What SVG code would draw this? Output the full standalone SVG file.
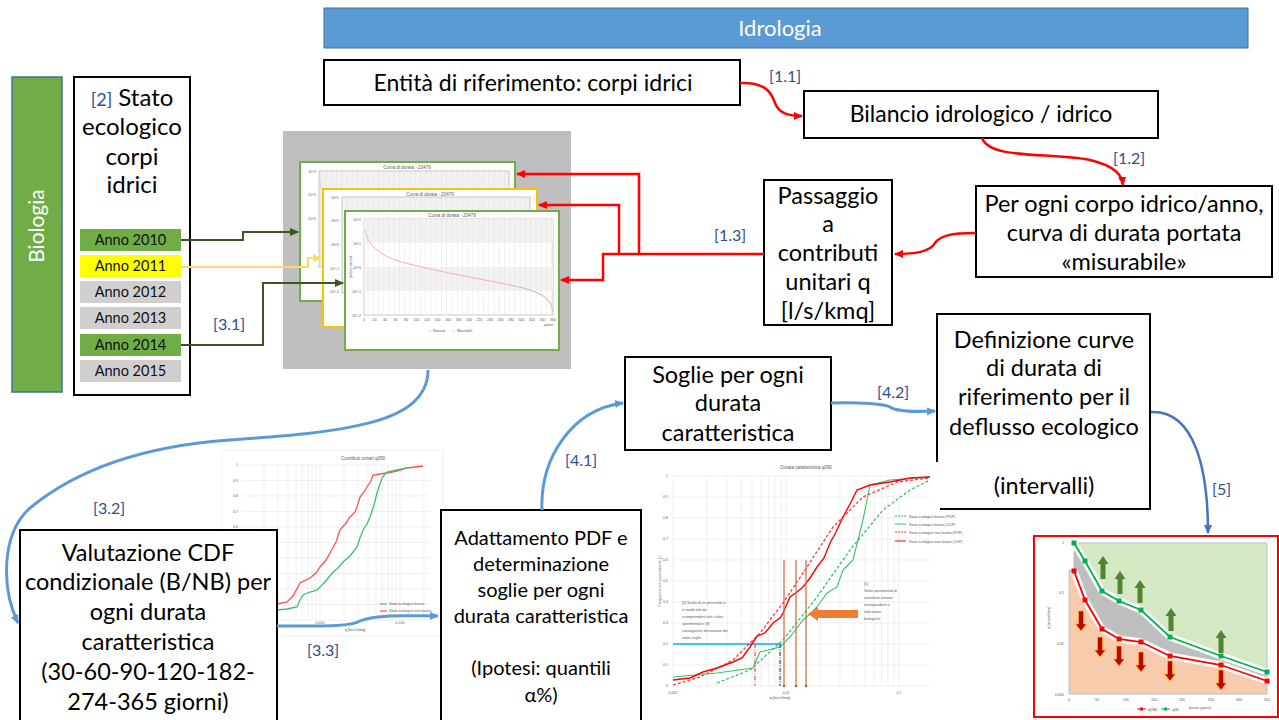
<svg xmlns="http://www.w3.org/2000/svg" width="1279" height="720" viewBox="0 0 1279 720">
<defs>
<style>
.box{fill:#fff;stroke:#000;stroke-width:2}
.t{font-family:Lato,"Liberation Sans",sans-serif;font-size:23.5px;fill:#000;text-anchor:middle}
.t20{font-size:20px}
.t23{font-size:23px}
.t24{font-size:24px}
.lbl{font-family:Lato,"Liberation Sans",sans-serif;font-size:16px;fill:#2f4f8f}
.anno{font-family:Lato,"Liberation Sans",sans-serif;font-size:14.5px;fill:#111;text-anchor:middle}
.red{fill:none;stroke:#ff0000;stroke-width:2.5}
.blue{fill:none;stroke:#5b9bd5;stroke-width:3}
.dg{fill:none;stroke:#385723;stroke-width:2}
.s{font-family:"Liberation Sans",sans-serif;font-size:4.5px;fill:#595959}
.ss{font-family:"Liberation Sans",sans-serif;font-size:3.6px;fill:#595959}
.g{stroke:#e6e6e6;stroke-width:0.6;fill:none}
.card{fill:#fff;stroke-width:2}
</style>
<marker id="ar" markerWidth="10" markerHeight="10" refX="8" refY="5" orient="auto" markerUnits="userSpaceOnUse"><path d="M0,1 L9,5 L0,9 z" fill="#ff0000"/></marker>
<marker id="ab" markerWidth="10" markerHeight="10" refX="8" refY="5" orient="auto" markerUnits="userSpaceOnUse"><path d="M0,1 L9,5 L0,9 z" fill="#5b9bd5"/></marker>
<marker id="ad" markerWidth="10" markerHeight="10" refX="8" refY="5" orient="auto" markerUnits="userSpaceOnUse"><path d="M0,1 L9,5 L0,9 z" fill="#4472c4"/></marker>
<marker id="ag" markerWidth="10" markerHeight="10" refX="8" refY="5" orient="auto" markerUnits="userSpaceOnUse"><path d="M0,1 L9,5 L0,9 z" fill="#385723"/></marker>
<marker id="ay" markerWidth="10" markerHeight="10" refX="8" refY="5" orient="auto" markerUnits="userSpaceOnUse"><path d="M0,1 L9,5 L0,9 z" fill="#ffd966"/></marker>
<pattern id="vg" width="5.25" height="10" patternUnits="userSpaceOnUse"><line x1="0.3" y1="0" x2="0.3" y2="10" stroke="#d9d9d9" stroke-width="0.5"/></pattern>
<path id="up" d="M-2.5,0 V-15 H-5.5 L0,-23 L5.5,-15 H2.5 V0 Z" fill="#548235"/>
<path id="dn" d="M-2.5,0 V13 H-5.5 L0,20 L5.5,13 H2.5 V0 Z" fill="#c00000" stroke="#ffc000" stroke-width="0.7"/>
</defs>
<rect width="1279" height="720" fill="#fff"/>

<!-- Header -->
<g id="idrologia">
<rect x="324" y="8" width="924" height="40" fill="#5b9bd5" stroke="#41719c" stroke-width="1"/>
<text x="780" y="36" font-family="Lato,'Liberation Sans',sans-serif" font-size="22" fill="#fff" text-anchor="middle">Idrologia</text>
</g>

<g id="biologia">
<rect x="12" y="77" width="50" height="315" fill="#70ad47" stroke="#41719c" stroke-width="1.5"/>
<text transform="translate(44,226) rotate(-90)" font-family="Lato,'Liberation Sans',sans-serif" font-size="21" fill="#fff" text-anchor="middle">Biologia</text>
</g>

<g id="stato">
<rect class="box" x="74" y="77" width="116" height="318"/>
<text class="t t24" x="132" y="106"><tspan font-size="18" fill="#2f4f8f">[2]</tspan> Stato</text>
<text class="t t24" x="132" y="135">ecologico</text>
<text class="t t24" x="132" y="165">corpi</text>
<text class="t t24" x="132" y="193">idrici</text>
<rect x="80" y="229" width="101" height="22" fill="#70ad47"/>
<text class="anno" x="130.5" y="245">Anno 2010</text>
<rect x="80" y="255" width="101" height="22" fill="#ffff00"/>
<text class="anno" x="130.5" y="271">Anno 2011</text>
<rect x="80" y="281" width="101" height="22" fill="#d0cece"/>
<text class="anno" x="130.5" y="297">Anno 2012</text>
<rect x="80" y="307" width="101" height="22" fill="#d0cece"/>
<text class="anno" x="130.5" y="323">Anno 2013</text>
<rect x="80" y="334" width="101" height="22" fill="#70ad47"/>
<text class="anno" x="130.5" y="350">Anno 2014</text>
<rect x="80" y="360" width="101" height="22" fill="#d0cece"/>
<text class="anno" x="130.5" y="376">Anno 2015</text>
</g>

<g id="entita">
<rect class="box" x="324" y="60" width="416" height="45"/>
<text class="t t23" x="533" y="91">Entità di riferimento: corpi idrici</text>
</g>

<g id="bilancio">
<rect class="box" x="804" y="91" width="354" height="47"/>
<text class="t t23" x="981" y="122">Bilancio idrologico / idrico</text>
</g>

<g id="perogni">
<rect class="box" x="976" y="186" width="296" height="91"/>
<text class="t" x="1124" y="212">Per ogni corpo idrico/anno,</text>
<text class="t" x="1124" y="241">curva di durata portata</text>
<text class="t" x="1124" y="270">«misurabile»</text>
</g>

<g id="passaggio">
<rect class="box" x="764" y="180" width="128" height="145"/>
<text class="t" x="828" y="204">Passaggio</text>
<text class="t" x="828" y="232">a</text>
<text class="t" x="828" y="261">contributi</text>
<text class="t" x="828" y="290">unitari q</text>
<text class="t" x="828" y="319">[l/s/kmq]</text>
</g>

<!-- Screenshot of duration curves -->
<g id="curve-durata">
<rect x="283" y="131" width="288" height="238" fill="#bfbfbf"/>
<g id="card1">
<rect class="card" x="300" y="162" width="215" height="139" stroke="#70ad47"/>
<text class="s" x="407" y="168.5" text-anchor="middle">Curva di durata - 20479</text>
<rect x="319" y="171" width="190" height="96" fill="#f2f2f2" stroke="#a6a6a6" stroke-width="0.6"/>
<rect x="319" y="171" width="190" height="96" fill="url(#vg)"/>
<text class="ss" x="316" y="173" text-anchor="end">10^2</text>
<text class="ss" x="316" y="196" text-anchor="end">10^1</text>
<text class="ss" x="316" y="220" text-anchor="end">10^0</text>
<path d="M320,182 C322,195 330,200 345,205" stroke="#f4b6c2" fill="none" stroke-width="0.8"/>
</g>
<g id="card2">
<rect class="card" x="323" y="189" width="214" height="138" stroke="#ffc000"/>
<text class="s" x="430" y="195.5" text-anchor="middle">Curva di durata - 20479</text>
<rect x="342" y="197" width="188" height="96" fill="#f2f2f2" stroke="#a6a6a6" stroke-width="0.6"/>
<rect x="342" y="197" width="188" height="96" fill="url(#vg)"/>
<text class="ss" x="339" y="199" text-anchor="end">10^2</text>
<text class="ss" x="339" y="222" text-anchor="end">10^1</text>
<text class="ss" x="339" y="246" text-anchor="end">10^0</text>
<text class="ss" x="339" y="270" text-anchor="end">10^-1</text>
<text class="ss" x="339" y="293" text-anchor="end">10^-2</text>
</g>
<g id="card3">
<rect class="card" x="345" y="211" width="214" height="139" stroke="#70ad47"/>
<text class="s" x="452" y="217" text-anchor="middle">Curva di durata - 20479</text>
<rect x="364" y="219" width="189" height="96" fill="#fff" stroke="#a6a6a6" stroke-width="0.6"/>
<rect x="364" y="219" width="189" height="24" fill="#f2f2f2"/>
<rect x="364" y="267" width="189" height="24" fill="#f2f2f2"/>
<rect x="364" y="219" width="189" height="96" fill="url(#vg)"/>
<text class="ss" x="361" y="221" text-anchor="end">10^2</text>
<text class="ss" x="361" y="245" text-anchor="end">10^1</text>
<text class="ss" x="361" y="269" text-anchor="end">10^0</text>
<text class="ss" x="361" y="293" text-anchor="end">10^-1</text>
<text class="ss" x="361" y="317" text-anchor="end">10^-2</text>
<text class="ss" x="352" y="267" transform="rotate(-90 352 267)" text-anchor="middle">[m3/s] naturali</text>
<path d="M365,230 C368,245 378,254 398,261 C430,270 470,277 510,285 C535,290 547,296 551,304 L553,312" stroke="#f4a6b6" fill="none" stroke-width="0.9"/>
<path d="M520,287 C538,292 547,297 552,306" stroke="#9dc3e6" fill="none" stroke-width="0.6"/>
<g class="ss" text-anchor="middle">
<text x="364" y="321">0</text><text x="374.5" y="321">20</text><text x="385" y="321">40</text><text x="395.5" y="321">60</text><text x="406" y="321">80</text><text x="416.5" y="321">100</text><text x="427" y="321">120</text><text x="437.5" y="321">140</text><text x="448" y="321">160</text><text x="458.5" y="321">180</text><text x="469" y="321">200</text><text x="479.5" y="321">220</text><text x="490" y="321">240</text><text x="500.5" y="321">260</text><text x="511" y="321">280</text><text x="521.5" y="321">300</text><text x="532" y="321">320</text><text x="542.5" y="321">340</text><text x="553" y="321">360</text>
</g>
<text class="ss" x="553" y="326" text-anchor="end">giorni</text>
<line x1="428" y1="331" x2="431" y2="331" stroke="#9dc3e6" stroke-width="0.6"/>
<text class="ss" x="433" y="332">Naturali</text>
<line x1="452" y1="331" x2="455" y2="331" stroke="#f4a6b6" stroke-width="0.6"/>
<text class="ss" x="457" y="332">Misurabili</text>
</g>
</g>

<g id="soglie">
<rect class="box" x="625" y="357" width="206" height="93"/>
<text class="t" x="728" y="383">Soglie per ogni</text>
<text class="t" x="728" y="411">durata</text>
<text class="t" x="728" y="441">caratteristica</text>
</g>

<g id="definizione">
<rect class="box" x="937" y="314" width="213" height="195"/>
<text class="t" x="1044" y="348">Definizione curve</text>
<text class="t" x="1044" y="376">di durata di</text>
<text class="t" x="1044" y="405">riferimento per il</text>
<text class="t" x="1044" y="435">deflusso ecologico</text>
<text class="t" x="1044" y="494">(intervalli)</text>
</g>

<!-- Middle chart: Contributi unitari q090 -->
<g id="chart-contributi">
<rect x="222" y="450" width="221" height="186" fill="#fff" stroke="#eeeeee" stroke-width="0.8"/>
<text class="s" x="363" y="460" text-anchor="middle" font-size="5.5">Contributi unitari q090</text>
<g class="g">
<path d="M242,465H430M242,480.5H430M242,496H430M242,511.5H430M242,527H430M242,542.5H430M242,558H430M242,573.5H430M242,589H430M242,604.5H430M242,620H430"/>
<path d="M264,465V620M278,465V620M288,465V620M296,465V620M302,465V620M308,465V620M312,465V620M316,465V620M320,465V620M344,465V620M358,465V620M368,465V620M376,465V620M382,465V620M388,465V620M392,465V620M396,465V620M400,465V620M424,465V620"/>
</g>
<g class="ss" text-anchor="end">
<text x="238" y="466">1</text><text x="238" y="481.5">0.9</text><text x="238" y="497">0.8</text><text x="238" y="512.5">0.7</text><text x="238" y="528">0.6</text>
</g>
<text class="ss" x="320" y="624" text-anchor="middle">0.010</text>
<text class="ss" x="400" y="624" text-anchor="middle">0.100</text>
<text class="ss" x="355" y="631" text-anchor="middle">q [mc/s/kmq]</text>
<path d="M268,607 L277,604 L287,602 L293,596 L300,583 L310,578 L316,573 L320,567 L326,560 L330,553 L336,542 L340,530 L346,523 L350,517 L355,512 L357,507 L360,497 L364,492 L367,487 L371,481 L373,475 L380,474 L387,473 L397,471 L407,468 L423,466" stroke="#ff5050" stroke-width="1.3" fill="none"/>
<path d="M268,611 L277,610 L287,609 L297,607 L300,600 L303,595 L310,592 L317,590 L325,582 L333,572 L338,568 L343,562 L350,556 L357,547 L360,538 L363,530 L367,524 L370,517 L374,505 L377,493 L380,484 L382,478 L385,474 L387,472 L397,470 L407,468" stroke="#3cbf6a" stroke-width="1.3" fill="none"/>
<line x1="380" y1="604" x2="387" y2="604" stroke="#3cbf6a" stroke-width="1.2"/>
<text class="ss" x="389" y="605" font-size="2.8">Stato ecologico buono</text>
<line x1="380" y1="611" x2="387" y2="611" stroke="#ff5050" stroke-width="1.2"/>
<text class="ss" x="389" y="612" font-size="2.8">Stato ecologico non buono</text>
</g>

<!-- Right chart: Durata caratteristica q090 -->
<g id="chart-durata">
<rect x="657" y="462" width="283" height="238" fill="#fff"/>
<text class="s" x="806" y="469" text-anchor="middle" font-size="5.5">Durata caratteristica q090</text>
<g class="g">
<path d="M673,476H930M673,497H930M673,518H930M673,539H930M673,560H930M673,581H930M673,602H930M673,623H930M673,644H930M673,665H930M673,686H930"/>
<path d="M673,476V686M707,476V686M727,476V686M741,476V686M752,476V686M761,476V686M768.5,476V686M775,476V686M781,476V686M786,476V686M820,476V686M840,476V686M854,476V686M865,476V686M874,476V686M881.5,476V686M888,476V686M894,476V686M899,476V686"/>
</g>
<g class="ss" text-anchor="end">
<text x="668" y="477">1</text><text x="668" y="498">0.9</text><text x="668" y="519">0.8</text><text x="668" y="540">0.7</text><text x="668" y="561">0.6</text><text x="668" y="582">0.5</text><text x="668" y="603">0.4</text><text x="668" y="624">0.3</text><text x="668" y="645">0.2</text><text x="668" y="666">0.1</text><text x="668" y="687">0</text>
</g>
<text class="ss" x="661" y="581" transform="rotate(-90 661 581)" text-anchor="middle">Frequenza non superamento (-)</text>
<g class="ss" text-anchor="middle"><text x="673" y="694">0.001</text><text x="786" y="694">0.01</text><text x="899" y="694">0.1</text></g>
<text class="ss" x="780" y="699" text-anchor="middle">q [mc/s/kmq]</text>
<line x1="673" y1="644" x2="781" y2="644" stroke="#00b0f0" stroke-width="1.3"/>
<path d="M673,685 L700,677 L733,660 L760,633 L783,603 L807,567 L833,527 L863,497 L897,482 L930,478" stroke="#ff3b3b" stroke-width="1.3" stroke-dasharray="3,2" fill="none"/>
<path d="M717,683 L750,670 L783,640 L817,597 L850,550 L883,510 L910,490 L930,480" stroke="#3cbf6a" stroke-width="1.3" stroke-dasharray="3,2" fill="none"/>
<path d="M673,677 L717,673 L753,668 L760,652 L780,647 L790,637 L797,628 L803,620 L810,614 L817,607 L822,600 L827,593 L837,587 L843,570 L848,565 L853,560 L858,540 L863,520 L868,495 L870,485 L890,480 L930,477" stroke="#3cbf6a" stroke-width="1.1" fill="none"/>
<path d="M673,680 L690,678 L703,672 L717,668 L733,662 L742,658 L750,647 L757,636 L765,633 L773,623 L780,618 L783,613 L790,597 L797,592 L803,587 L810,578 L817,567 L824,558 L830,543 L836,532 L843,517 L850,504 L857,490 L870,485 L890,482 L910,478 L930,477" stroke="#ff0000" stroke-width="1.4" fill="none"/>
<line x1="755" y1="644" x2="755" y2="686" stroke="#e05050" stroke-width="1.2" stroke-dasharray="4,1.5,1,1.5"/>
<line x1="780" y1="644" x2="780" y2="686" stroke="#385723" stroke-width="1.2" stroke-dasharray="4,1.5,1,1.5"/>
<g stroke="#c5794a" stroke-width="1.3">
<line x1="784" y1="560" x2="784" y2="686"/><line x1="796" y1="560" x2="796" y2="686"/><line x1="806" y1="560" x2="806" y2="686"/>
</g>
<g fill="#c55a11"><circle cx="784" cy="686" r="1.2"/><circle cx="796" cy="686" r="1.2"/><circle cx="806" cy="686" r="1.2"/></g>
<path d="M858,610 H818 V607 L808,614 L818,621 V618 H858 Z" fill="#ed7d31"/>
<g class="ss" font-size="3.8" fill="#404040">
<text x="682" y="604">[2] Scelta di un percentile α</text>
<text x="682" y="611">in modo tale da</text>
<text x="682" y="618">ricomprendere tutti i valori</text>
<text x="682" y="625">sperimentali e [3]</text>
<text x="682" y="632">conseguente derivazione dei</text>
<text x="682" y="639">valori soglia</text>
<text x="864" y="585">[1]</text>
<text x="864" y="592">Valori sperimentali di</text>
<text x="864" y="599">contributo unitario</text>
<text x="864" y="606">corrispondenti a</text>
<text x="864" y="613">indicazioni</text>
<text x="864" y="620">biologiche</text>
</g>
<g stroke-width="1">
<line x1="895" y1="516" x2="906" y2="516" stroke="#3cbf6a" stroke-dasharray="2,1"/>
<line x1="895" y1="524" x2="906" y2="524" stroke="#3cbf6a"/>
<line x1="895" y1="532" x2="906" y2="532" stroke="#ff3b3b" stroke-dasharray="2,1"/>
<line x1="895" y1="541" x2="906" y2="541" stroke="#ff0000"/>
</g>
<g class="ss" font-size="3.4">
<text x="909" y="517.5">Stato ecologico buono (PDF)</text>
<text x="909" y="525.5">Stato ecologico buono (CDF)</text>
<text x="909" y="533.5">Stato ecologico non buono (PDF)</text>
<text x="909" y="542.5">Stato ecologico non buono (CDF)</text>
</g>
</g>

<!-- Bottom-right chart -->
<g id="chart-riferimento">
<rect x="1034" y="536" width="244" height="181" fill="#fff" stroke="#ff0000" stroke-width="2"/>
<g class="g">
<path d="M1069,543H1267M1069,568H1267M1069,593H1267M1069,619H1267M1069,644H1267M1069,669H1267M1069,694H1267"/>
<path d="M1097,543V694M1126,543V694M1154,543V694M1182,543V694M1211,543V694M1239,543V694"/>
</g>
<polygon points="1069,570 1074,571 1085,600 1102,629 1119,639 1141,642 1170,656 1221,665 1267,681 1267,694 1069,694" fill="#f8cbad" stroke="#adb9ca" stroke-width="0.8"/>
<polygon points="1074,551 1085,561 1102,591 1119,601 1141,610 1170,637 1221,656 1267,672 1267,681 1221,665 1170,656 1141,642 1119,639 1102,629 1085,600 1074,571" fill="#bfbfbf" stroke="#adb9ca" stroke-width="0.8"/>
<polygon points="1078,543 1267,543 1267,672 1221,656 1170,637 1141,610 1119,601 1102,591 1085,561" fill="#d5e8c4" stroke="#adb9ca" stroke-width="0.8"/>
<g fill="none" stroke="#fff" stroke-width="7" stroke-linejoin="round">
<polyline points="1074,543 1085,561 1102,591 1119,601 1141,610 1170,637 1221,656 1267,672"/>
<polyline points="1074,571 1085,600 1102,629 1119,639 1141,642 1170,656 1221,665 1267,681"/>
</g>
<polyline points="1074,543 1085,561 1102,591 1119,601 1141,610 1170,637 1221,656 1267,672" fill="none" stroke="#00b050" stroke-width="1.8"/>
<polyline points="1074,571 1085,600 1102,629 1119,639 1141,642 1170,656 1221,665 1267,681" fill="none" stroke="#ff0000" stroke-width="1.8"/>
<g fill="#00b050">
<rect x="1071.5" y="540.5" width="5" height="5"/><rect x="1082.5" y="558.5" width="5" height="5"/><rect x="1099.5" y="588.5" width="5" height="5"/><rect x="1116.5" y="598.5" width="5" height="5"/><rect x="1138.5" y="607.5" width="5" height="5"/><rect x="1167.5" y="634.5" width="5" height="5"/><rect x="1218.5" y="653.5" width="5" height="5"/><rect x="1264.5" y="669.5" width="5" height="5"/>
</g>
<g fill="#ff0000">
<rect x="1071.5" y="568.5" width="5" height="5"/><rect x="1082.5" y="597.5" width="5" height="5"/><rect x="1099.5" y="626.5" width="5" height="5"/><rect x="1116.5" y="636.5" width="5" height="5"/><rect x="1138.5" y="639.5" width="5" height="5"/><rect x="1167.5" y="653.5" width="5" height="5"/><rect x="1218.5" y="662.5" width="5" height="5"/><rect x="1264.5" y="678.5" width="5" height="5"/>
</g>
<use href="#up" x="1103" y="579"/><use href="#up" x="1120" y="594"/><use href="#up" x="1140" y="603"/><use href="#up" x="1171" y="631"/><use href="#up" x="1221" y="653"/>
<use href="#dn" x="1081" y="611"/><use href="#dn" x="1100" y="637"/><use href="#dn" x="1119" y="646"/><use href="#dn" x="1141" y="652"/><use href="#dn" x="1170" y="661"/><use href="#dn" x="1221" y="670"/>
<g class="ss" text-anchor="end"><text x="1064" y="544">1</text><text x="1064" y="594">0.5</text><text x="1064" y="645">0.05</text><text x="1064" y="696">0.005</text></g>
<text class="ss" x="1050" y="618" transform="rotate(-90 1050 618)" text-anchor="middle">q [mcs/s/kmq]</text>
<g class="ss" text-anchor="middle"><text x="1069" y="701">0</text><text x="1097" y="701">50</text><text x="1126" y="701">100</text><text x="1154" y="701">150</text><text x="1182" y="701">200</text><text x="1211" y="701">250</text><text x="1239" y="701">300</text><text x="1267" y="701">350</text></g>
<text class="ss" x="1200" y="709" text-anchor="middle">durata (giorni)</text>
<line x1="1137" y1="709" x2="1146" y2="709" stroke="#ff0000" stroke-width="1"/><rect x="1140" y="707.5" width="3" height="3" fill="#ff0000"/>
<text class="ss" x="1148" y="710.5">q(NB)</text>
<line x1="1161" y1="709" x2="1170" y2="709" stroke="#00b050" stroke-width="1"/><rect x="1164" y="707.5" width="3" height="3" fill="#00b050"/>
<text class="ss" x="1172" y="710.5">q(B)</text>
</g>

<g id="valutazione">
<rect class="box" x="20" y="530" width="257" height="200"/>
<text class="t" x="148" y="561">Valutazione CDF</text>
<text class="t" x="148" y="590">condizionale (B/NB) per</text>
<text class="t" x="148" y="620">ogni durata</text>
<text class="t" x="148" y="650">caratteristica</text>
<text class="t" x="148" y="680">(30-60-90-120-182-</text>
<text class="t" x="148" y="710">274-365 giorni)</text>
</g>

<g id="adattamento">
<rect class="box" x="441" y="510" width="200" height="220"/>
<text class="t t20" x="541" y="545">Adattamento PDF e</text>
<text class="t t20" x="541" y="571">determinazione</text>
<text class="t t20" x="541" y="597">soglie per ogni</text>
<text class="t t20" x="541" y="623">durata caratteristica</text>
<text class="t t20" x="541" y="675">(Ipotesi: quantili</text>
<text class="t t20" x="541" y="702">α%)</text>
</g>

<!-- Connectors -->
<g id="connectors">
<path class="red" d="M740,83 C768,82 772,95 775,103 C779,114 790,116 802,116" marker-end="url(#ar)"/>
<path class="red" d="M982,138 C990,160 1050,152 1090,160 C1115,166 1122,175 1123,185" marker-end="url(#ar)"/>
<path class="red" d="M976,233 C950,233 940,236 935,243 C930,252 915,254 895,254" marker-end="url(#ar)"/>
<path class="red" d="M764,254 H639 V174 H517" marker-end="url(#ar)"/>
<path class="red" d="M639,254 H619 V205 H539" marker-end="url(#ar)"/>
<path class="red" d="M619,254 H603 V280 H561" marker-end="url(#ar)"/>
<path class="dg" d="M181,240 H243 V232 H298" marker-end="url(#ag)"/>
<path fill="none" stroke="#ffd966" stroke-width="2" d="M181,267 H308 V258 H321" marker-end="url(#ay)"/>
<path class="dg" d="M181,345 H263 V283 H343" marker-end="url(#ag)"/>
<path class="blue" d="M428,370 C428,425 340,432 230,440 C130,447 70,475 30,508 C0,535 2,590 18,623" marker-end="url(#ab)"/>
<path class="blue" d="M277,626 C320,626 350,627 360,621 C375,614 410,616 438,616" marker-end="url(#ab)"/>
<path class="blue" d="M542,510 C540,460 570,410 623,403" marker-end="url(#ab)"/>
<path class="blue" d="M831,403 C860,402 885,404 890,407 C895,411 915,412 935,411" marker-end="url(#ab)"/>
<path fill="none" stroke="#4472c4" stroke-width="2.5" d="M1151,412 C1195,410 1208,470 1208,533" marker-end="url(#ad)"/>
<text class="lbl" x="769" y="82">[1.1]</text>
<text class="lbl" x="1113" y="164">[1.2]</text>
<text class="lbl" x="714" y="241">[1.3]</text>
<text class="lbl" x="213" y="330">[3.1]</text>
<text class="lbl" x="93" y="514">[3.2]</text>
<text class="lbl" x="307" y="656">[3.3]</text>
<text class="lbl" x="565" y="466">[4.1]</text>
<text class="lbl" x="877" y="398">[4.2]</text>
<text class="lbl" x="1212" y="495">[5]</text>
</g>
</svg>
